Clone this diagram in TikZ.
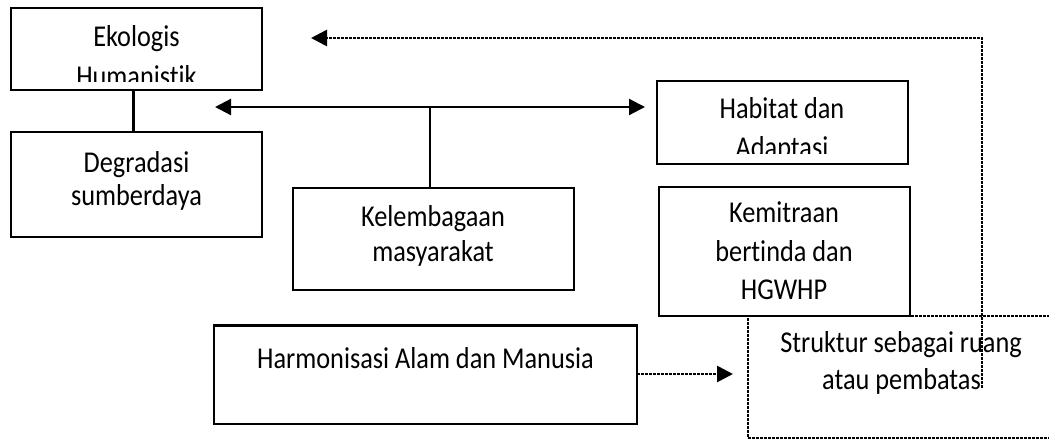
\documentclass[tikz,border=0pt]{standalone}
\usepackage{fontspec}
\usepackage{graphicx}
\setmainfont{Carlito}[Ligatures={NoCommon}]
\usetikzlibrary{arrows.meta}
\newcommand{\tallt}[1]{\scalebox{1}[1.15]{#1}}
\begin{document}
\begin{tikzpicture}[x=1pt,y=-1pt,
  box/.style={draw,line width=2.3pt,inner sep=0pt,outer sep=0pt},
  dotbox/.style={draw,line width=2.7pt,dash pattern=on 2.6pt off 1.4pt,inner sep=0pt,outer sep=0pt},
  txt/.style={anchor=base,inner sep=0pt,font=\fontsize{26.3}{30}\selectfont},
  conn/.style={line width=2.2pt},
  dotline/.style={line width=2.7pt,dash pattern=on 2.6pt off 1.4pt},
  tipend/.style={-{Triangle[length=16pt,width=16pt]}},
  tipboth/.style={{Triangle[length=16pt,width=16pt]}-{Triangle[length=16pt,width=16pt]}}
]
\useasboundingbox (0,0) rectangle (1049,440);
\fill[white] (0,0) rectangle (1049,440);

% boxes
\node[box, minimum width=251pt, minimum height=82pt] (eko) at (136.5,49) {};
\node[box, minimum width=251pt, minimum height=105pt] (deg) at (136.5,184.5) {};
\node[box, minimum width=281pt, minimum height=102pt] (kel) at (433.5,239) {};
\node[box, minimum width=251pt, minimum height=83pt] (hab) at (782.5,122.5) {};
\node[box, minimum width=251pt, minimum height=129pt] (kem) at (784.5,251.5) {};
\node[box, minimum width=423pt, minimum height=98.5pt] (har) at (425.5,374.75) {};
\node[dotbox, minimum width=322pt, minimum height=122pt] (str) at (909,377) {};

% texts
\node[txt] (eko1) at (136.5,46.7) {\tallt{Ekologis}};
\begin{scope}
  \clip (11,8) rectangle (262,81);
  \node[txt] (eko2) at (136.5,86) {\tallt{Humanistik}};
\end{scope}
\node[txt] (deg1) at (136.5,172) {\tallt{Degradasi}};
\node[txt] (deg2) at (136.5,205) {\tallt{sumberdaya}};
\node[txt] (kel1) at (433,226.7) {\tallt{Kelembagaan}};
\node[txt] (kel2) at (433,261) {\tallt{masyarakat}};
\node[txt] (hab1) at (782,118.3) {\tallt{Habitat dan}};
\begin{scope}
  \clip (657,81) rectangle (908,153.3);
  \node[txt] (hab2) at (782,157.5) {\tallt{Adaptasi}};
\end{scope}
\node[txt] (kem1) at (784,222.7) {\tallt{Kemitraan}};
\node[txt] (kem2) at (784,261) {\tallt{bertinda dan}};
\node[txt] (kem3) at (784,299) {\tallt{HGWHP}};
\node[txt] (har1) at (425.5,368) {\tallt{Harmonisasi Alam dan Manusia}};
\node[txt] (str1) at (901,352.7) {\tallt{Struktur sebagai ruang}};
\node[txt] (str2) at (901.5,389.3) {\tallt{atau pembatas}};

% coordinates
\coordinate (jn) at (430,107);
\coordinate (ltip) at (215,107);
\coordinate (rtip) at (645,107);
\coordinate (dtr) at (982,38);
\coordinate (dbot) at (982,388);
\coordinate (dtip) at (311,38);
\coordinate (htip) at (733,374);

% connectors
\draw[conn] ([xshift=-3pt]eko.south) -- ([xshift=-3pt]deg.north);
\draw[conn,tipboth] (ltip) -- (rtip);
\draw[conn] (jn) -- (jn |- kel.north);
\draw[dotline,tipend] (dbot) -- (dtr) -- (dtip);
\draw[dotline,tipend] (har.east |- htip) -- (htip);
\end{tikzpicture}
\end{document}
